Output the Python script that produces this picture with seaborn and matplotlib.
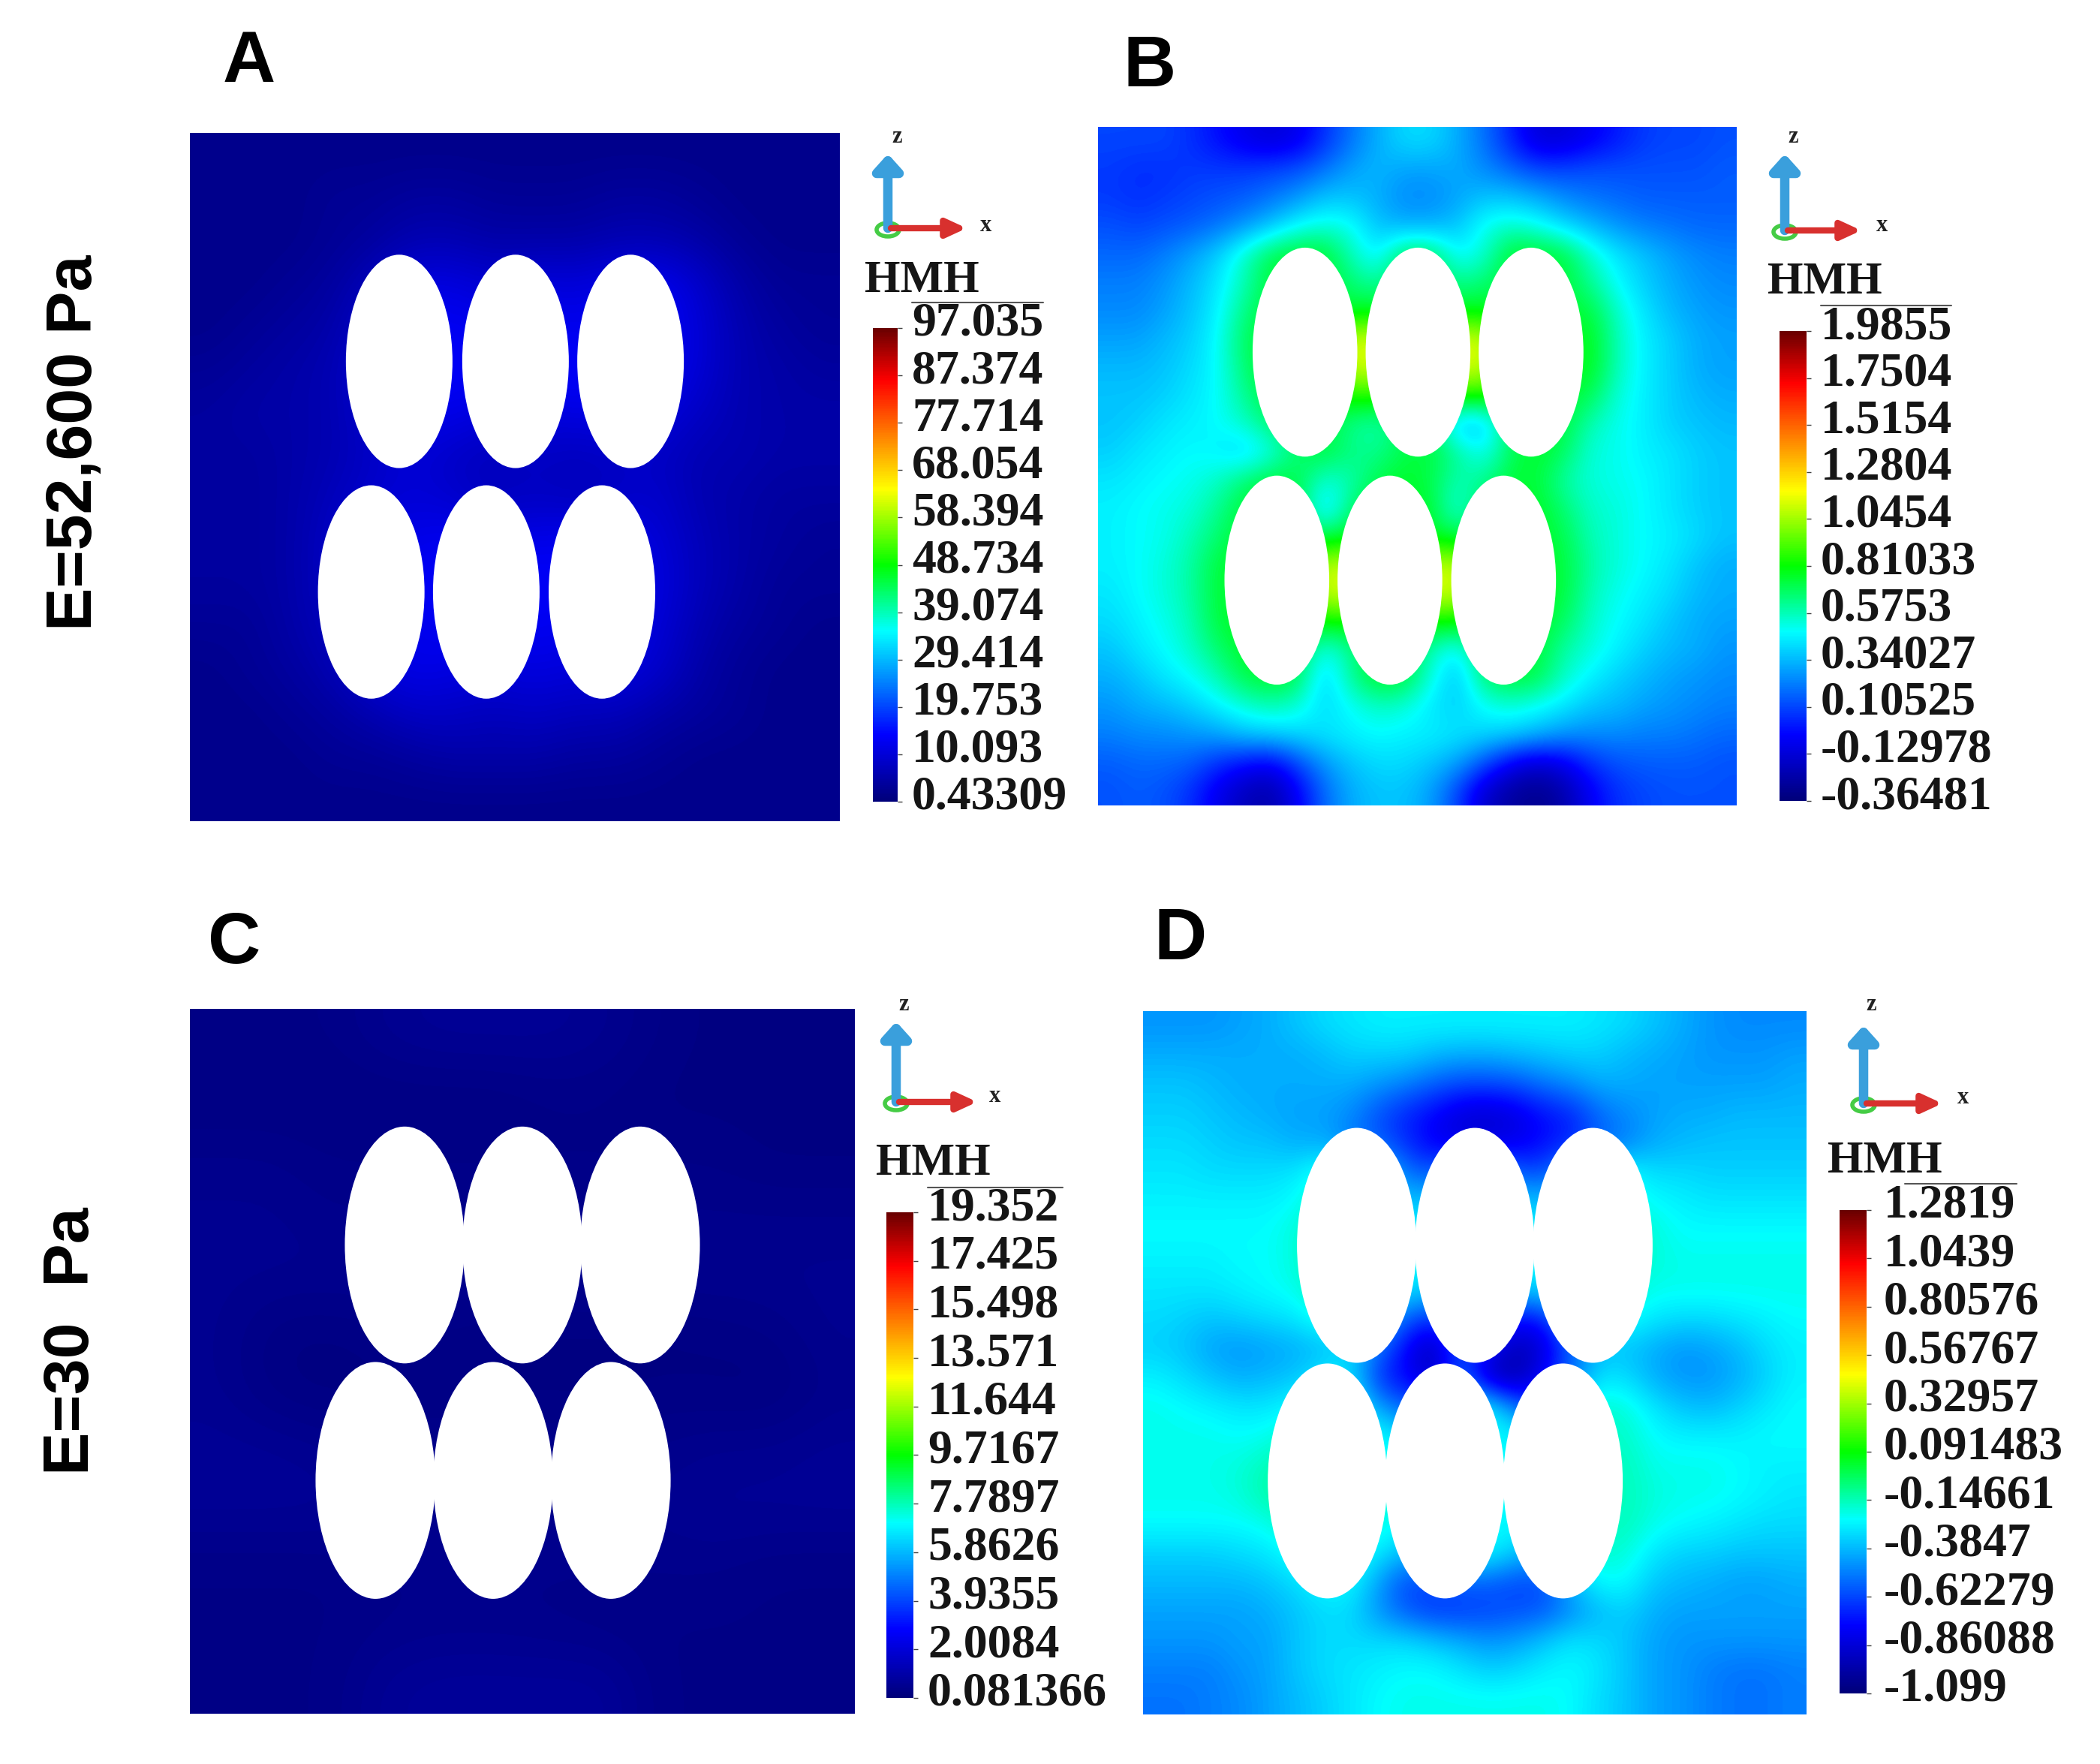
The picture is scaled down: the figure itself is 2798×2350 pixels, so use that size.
"""
plot.py - four HMH stress fields around six holes, two stiffness values
"""

import numpy as np
import matplotlib
matplotlib.use("Agg")
import matplotlib.pyplot as plt
from matplotlib.colors import LinearSegmentedColormap
from matplotlib.patches import Ellipse
from matplotlib.transforms import ScaledTranslation
import seaborn as sns

sns.set_theme(style="white")

FIG_W, FIG_H = 2798, 2350
SERIF = "Liberation Serif"
SANS = "Liberation Sans"

# colour bar of the solver, stops
cmap_stops = [(0.0, "#00007a"), (0.14, "#0000ff"), (0.36, "#00ffff"), (0.50, "#00ff00"),
              (0.66, "#ffff00"), (0.76, "#ff9000"), (0.89, "#ff0000"), (1.0, "#6a0000")]
hmh_cmap = LinearSegmentedColormap.from_list("hmh", cmap_stops)

# colour bar labels, top to bottom
labels_a = ["97.035", "87.374", "77.714", "68.054", "58.394", "48.734", "39.074", "29.414", "19.753", "10.093", "0.43309"]
labels_b = ["1.9855", "1.7504", "1.5154", "1.2804", "1.0454", "0.81033", "0.5753", "0.34027", "0.10525", "-0.12978", "-0.36481"]
labels_c = ["19.352", "17.425", "15.498", "13.571", "11.644", "9.7167", "7.7897", "5.8626", "3.9355", "2.0084", "0.081366"]
labels_d = ["1.2819", "1.0439", "0.80576", "0.56767", "0.32957", "0.091483", "-0.14661", "-0.3847", "-0.62279", "-0.86088", "-1.099"]

# holes, in percent of the panel (x from left, y from top)
holes_a = [[32.2, 50.1, 67.8], 33.2, [27.9, 45.6, 63.4], 66.7, 8.2, 15.5]
holes_b = [[32.4, 50.1, 67.8], 33.2, [28.0, 45.7, 63.5], 66.8, 8.2, 15.4]
holes_c = [[32.3, 50.0, 67.7], 33.5, [27.9, 45.6, 63.3], 66.9, 9.0, 16.8]
holes_d = [[32.2, 50.0, 67.8], 33.3, [27.8, 45.5, 63.3], 66.8, 9.0, 16.7]

# field, as percent of the colour bar range
# cells under the holes carry the value seen at the hole edge
field_a = [
    [2, 2, 2, 2, 2, 2, 2, 2, 2, 2, 2, 2, 2, 2, 2, 2],
    [2, 2, 2, 3, 3, 4, 4, 3, 3, 3, 4, 4, 3, 2, 2, 2],
    [2, 2, 2, 3, 4, 6, 6, 5, 5, 5, 6, 6, 5, 3, 2, 2],
    [2, 2, 3, 4, 7, 11, 11, 9, 11, 10, 12, 13, 9, 5, 3, 3],
    [2, 3, 4, 5, 9, 13, 13, 12, 13, 12, 13, 14, 10, 6, 4, 3],
    [3, 4, 5, 6, 10, 13, 14, 13, 14, 14, 13, 13, 10, 6, 5, 4],
    [4, 5, 5, 6, 9, 12, 12, 10, 11, 11, 12, 11, 8, 6, 5, 5],
    [4, 4, 5, 6, 8, 10, 8, 7, 8, 7, 8, 8, 6, 6, 5, 5],
    [4, 4, 5, 7, 9, 10, 9, 7, 8, 7, 8, 9, 6, 5, 4, 4],
    [4, 4, 5, 8, 11, 12, 13, 12, 12, 13, 12, 10, 7, 5, 4, 3],
    [4, 4, 5, 8, 12, 13, 14, 13, 14, 13, 12, 11, 7, 5, 3, 3],
    [3, 3, 5, 7, 11, 12, 13, 12, 13, 12, 12, 10, 6, 4, 3, 2],
    [2, 3, 4, 6, 10, 12, 11, 10, 11, 10, 11, 9, 5, 3, 2, 2],
    [2, 2, 3, 4, 6, 8, 8, 7, 8, 7, 7, 5, 4, 3, 2, 2],
    [2, 2, 2, 3, 3, 4, 5, 5, 5, 4, 4, 3, 2, 2, 2, 2],
    [2, 2, 2, 2, 2, 2, 2, 2, 2, 2, 2, 2, 2, 2, 2, 2],
]

field_b = [
    [20, 20, 20, 18, 15, 12, 10, 12, 18, 24, 29, 33, 33, 29, 24, 17, 10, 10, 13, 16, 19, 20, 20, 21],
    [19, 18, 18, 19, 19, 19, 20, 21, 24, 28, 30, 28, 28, 29, 26, 23, 20, 20, 21, 21, 21, 21, 21, 22],
    [19, 18, 19, 20, 21, 22, 24, 27, 31, 31, 29, 26, 26, 28, 31, 31, 29, 26, 24, 23, 22, 22, 22, 22],
    [21, 20, 21, 22, 24, 27, 31, 36, 38, 37, 31, 29, 29, 31, 37, 39, 37, 33, 30, 27, 25, 24, 23, 23],
    [23, 23, 25, 28, 32, 39, 46, 48, 48, 40, 34, 46, 46, 35, 38, 48, 48, 47, 39, 34, 31, 28, 26, 25],
    [25, 25, 27, 30, 34, 40, 47, 47, 47, 44, 41, 47, 47, 42, 44, 47, 47, 47, 42, 36, 32, 29, 27, 26],
    [26, 26, 28, 31, 35, 43, 47, 47, 47, 47, 48, 47, 47, 48, 48, 47, 47, 47, 47, 39, 34, 30, 28, 27],
    [28, 28, 30, 32, 36, 45, 48, 48, 48, 64, 64, 48, 48, 64, 64, 48, 48, 48, 49, 40, 35, 32, 29, 28],
    [30, 30, 31, 33, 36, 44, 48, 48, 48, 64, 64, 48, 48, 64, 64, 48, 48, 48, 49, 40, 35, 32, 29, 28],
    [31, 31, 32, 34, 36, 42, 47, 48, 48, 52, 52, 48, 48, 52, 52, 48, 48, 47, 46, 38, 35, 32, 30, 29],
    [31, 32, 34, 35, 36, 39, 44, 47, 47, 42, 40, 46, 46, 30, 30, 46, 47, 47, 40, 37, 35, 32, 31, 30],
    [32, 34, 35, 36, 35, 32, 37, 44, 47, 43, 42, 46, 47, 42, 36, 45, 48, 45, 38, 37, 35, 34, 32, 31],
    [34, 35, 36, 37, 39, 44, 47, 46, 38, 40, 46, 48, 46, 40, 42, 47, 47, 41, 38, 37, 36, 34, 32, 31],
    [35, 36, 37, 38, 42, 47, 48, 48, 31, 44, 48, 48, 48, 36, 47, 48, 48, 44, 39, 38, 36, 34, 32, 31],
    [35, 36, 37, 40, 44, 48, 48, 48, 46, 48, 48, 48, 48, 46, 48, 48, 48, 46, 40, 38, 36, 35, 33, 31],
    [35, 36, 38, 41, 47, 48, 48, 48, 63, 63, 48, 48, 63, 63, 48, 48, 48, 47, 41, 38, 36, 34, 31, 29],
    [34, 36, 38, 41, 47, 48, 48, 48, 64, 64, 48, 48, 64, 64, 48, 48, 48, 47, 40, 37, 35, 33, 30, 29],
    [33, 35, 37, 40, 47, 48, 48, 48, 50, 50, 48, 48, 50, 50, 48, 48, 48, 45, 39, 36, 34, 31, 29, 28],
    [31, 34, 36, 39, 44, 48, 48, 47, 36, 42, 48, 48, 40, 34, 47, 48, 47, 41, 38, 35, 32, 30, 29, 27],
    [29, 31, 34, 36, 40, 46, 48, 46, 31, 42, 48, 47, 38, 30, 44, 47, 46, 39, 35, 32, 30, 28, 27, 26],
    [27, 29, 30, 32, 35, 38, 40, 38, 33, 36, 39, 38, 34, 32, 36, 38, 36, 34, 31, 30, 28, 27, 26, 25],
    [25, 26, 26, 27, 28, 31, 32, 33, 34, 35, 36, 35, 35, 34, 33, 32, 30, 27, 26, 26, 25, 25, 24, 23],
    [22, 23, 23, 22, 18, 15, 13, 20, 27, 31, 33, 33, 31, 28, 21, 13, 9, 12, 18, 21, 22, 22, 22, 21],
    [21, 22, 21, 18, 12, 7, 5, 13, 23, 29, 31, 31, 28, 20, 9, 4, 2, 5, 13, 18, 20, 21, 21, 21],
]

field_c = [
    [1.5, 1.5, 1.5, 2.5, 3.0, 3.0, 3.0, 2.5, 1.5, 1.0, 1.0, 1.0],
    [1.0, 1.0, 1.0, 1.0, 1.0, 1.0, 1.5, 1.5, 1.0, 1.0, 1.0, 1.0],
    [2.0, 2.0, 1.5, 1.5, 1.5, 1.5, 1.5, 1.5, 1.5, 1.5, 1.0, 1.0],
    [2.5, 2.5, 2.0, 2.0, 2.0, 2.0, 2.0, 2.0, 2.0, 2.0, 2.0, 2.0],
    [2.5, 2.5, 2.5, 2.5, 2.5, 2.5, 2.5, 2.5, 2.5, 2.5, 2.5, 2.5],
    [2.5, 1.2, 1.0, 1.5, 1.5, 1.2, 1.0, 1.0, 1.0, 1.2, 1.5, 2.5],
    [2.5, 1.2, 0.8, 1.0, 1.2, 1.0, 1.0, 1.0, 1.2, 1.0, 0.8, 2.0],
    [3.0, 3.0, 2.5, 2.0, 2.0, 2.0, 2.0, 2.0, 2.0, 2.5, 2.5, 3.0],
    [3.0, 3.0, 3.0, 2.5, 2.5, 2.5, 2.5, 2.5, 2.5, 3.0, 3.0, 3.0],
    [1.5, 1.5, 1.5, 2.0, 2.0, 2.0, 2.0, 2.0, 2.0, 2.0, 1.5, 1.5],
    [1.5, 1.5, 1.5, 1.8, 2.0, 2.0, 1.8, 1.5, 1.5, 1.5, 1.5, 1.5],
    [1.5, 1.5, 1.5, 3.0, 3.5, 3.5, 3.5, 3.5, 1.5, 1.5, 1.5, 1.5],
]

field_d = [
    [27, 27, 27, 28, 29, 31, 33, 34, 35, 35, 35, 35, 35, 35, 35, 35, 34, 33, 31, 29, 27, 26, 26, 26],
    [29, 29, 29, 29, 29, 29, 30, 32, 32, 32, 30, 29, 29, 30, 31, 32, 32, 30, 29, 28, 27, 27, 27, 28],
    [31, 31, 30, 29, 29, 29, 29, 29, 27, 25, 22, 20, 20, 21, 24, 26, 29, 29, 28, 28, 28, 28, 28, 29],
    [32, 32, 31, 30, 29, 28, 28, 26, 21, 17, 14, 10, 9, 11, 15, 17, 23, 26, 28, 29, 29, 30, 30, 30],
    [33, 33, 32, 31, 31, 29, 29, 25, 22, 18, 13, 11, 11, 12, 15, 17, 23, 25, 29, 30, 31, 31, 31, 31],
    [34, 34, 33, 33, 33, 34, 38, 38, 35, 24, 21, 30, 30, 22, 20, 30, 34, 37, 33, 33, 32, 32, 32, 32],
    [35, 35, 35, 35, 35, 36, 40, 38, 36, 30, 32, 34, 34, 32, 30, 34, 36, 38, 36, 35, 34, 34, 34, 34],
    [36, 36, 36, 36, 36, 38, 41, 38, 36, 36, 36, 36, 36, 36, 36, 36, 36, 40, 38, 36, 36, 36, 36, 36],
    [35, 35, 35, 36, 36, 38, 41, 38, 36, 36, 36, 36, 36, 36, 36, 36, 36, 40, 38, 37, 37, 37, 37, 37],
    [34, 34, 34, 35, 36, 37, 41, 38, 36, 34, 32, 35, 35, 32, 33, 36, 36, 39, 37, 37, 37, 37, 37, 37],
    [33, 32, 31, 32, 33, 34, 38, 36, 32, 22, 17, 26, 22, 14, 16, 30, 36, 37, 34, 33, 33, 34, 35, 36],
    [32, 31, 28, 27, 28, 29, 30, 33, 24, 14, 6, 22, 14, 6, 10, 22, 30, 31, 29, 27, 28, 30, 33, 35],
    [35, 33, 31, 29, 30, 31, 35, 34, 18, 14, 7, 24, 7, 5, 14, 24, 34, 33, 29, 27, 27, 29, 32, 35],
    [37, 36, 35, 34, 34, 36, 40, 38, 28, 22, 24, 36, 36, 24, 18, 34, 39, 38, 34, 31, 30, 32, 34, 36],
    [37, 37, 37, 36, 37, 39, 40, 39, 36, 34, 36, 36, 36, 36, 34, 36, 39, 39, 36, 35, 35, 35, 36, 36],
    [37, 37, 37, 38, 40, 42, 40, 39, 38, 36, 36, 36, 36, 36, 36, 36, 39, 40, 37, 37, 37, 36, 35, 35],
    [37, 37, 37, 38, 41, 42, 40, 39, 38, 36, 36, 36, 36, 36, 36, 36, 39, 40, 38, 37, 37, 36, 35, 34],
    [36, 36, 36, 36, 37, 40, 40, 39, 38, 36, 36, 36, 36, 36, 36, 36, 39, 40, 37, 36, 35, 34, 33, 33],
    [32, 32, 32, 33, 34, 37, 40, 39, 34, 30, 32, 36, 36, 31, 29, 36, 39, 38, 34, 32, 32, 31, 31, 31],
    [30, 30, 30, 30, 31, 33, 36, 36, 28, 20, 20, 22, 22, 20, 20, 30, 36, 36, 31, 30, 29, 28, 28, 29],
    [28, 28, 28, 28, 29, 31, 33, 33, 27, 22, 19, 19, 20, 21, 22, 26, 30, 32, 29, 28, 28, 28, 28, 28],
    [27, 27, 27, 28, 28, 31, 33, 33, 33, 33, 31, 29, 27, 28, 31, 34, 33, 31, 28, 27, 27, 27, 27, 27],
    [25, 25, 25, 27, 28, 31, 33, 34, 35, 36, 36, 34, 32, 33, 35, 36, 34, 31, 28, 27, 25, 24, 24, 25],
    [24, 24, 25, 26, 28, 30, 32, 34, 36, 37, 37, 37, 37, 37, 37, 36, 33, 31, 28, 27, 25, 24, 24, 25],
]

# one entry per panel: pixel boxes of field and bar, then the furniture around them
panels = [
    dict(letter="A", letter_xy=(332, 84), field=field_a, labels=labels_a, holes=holes_a,
         box=(253, 177, 1119, 1094), bar=(1163, 437, 1196, 1068), pad=19,
         hmh=(1152, 374), over=(1215, 1390, 403),
         z=(1183, 304, 205), x_end=1288, z_txt=(1195, 182), x_txt=(1313, 301)),
    dict(letter="B", letter_xy=(1532, 90), field=field_b, labels=labels_b, holes=holes_b,
         box=(1463, 169, 2314, 1073), bar=(2371, 441, 2407, 1067), pad=19,
         hmh=(2355, 376), over=(2426, 2600, 407),
         z=(2378, 307, 205), x_end=2480, z_txt=(2389, 182), x_txt=(2507, 300)),
    dict(letter="C", letter_xy=(312, 1258), field=field_c, labels=labels_c, holes=holes_c,
         box=(253, 1344, 1139, 2283), bar=(1181, 1615, 1217, 2262), pad=19,
         hmh=(1167, 1550), over=(1236, 1416, 1582),
         z=(1194, 1468, 1361), x_end=1302, z_txt=(1204, 1338), x_txt=(1326, 1461)),
    dict(letter="D", letter_xy=(1573, 1253), field=field_d, labels=labels_d, holes=holes_d,
         box=(1523, 1347, 2407, 2284), bar=(2451, 1612, 2487, 2256), pad=23,
         hmh=(2435, 1547), over=(2538, 2687, 1577),
         z=(2483, 1470, 1366), x_end=2588, z_txt=(2493, 1339), x_txt=(2615, 1462)),
]


def px_axes(fig, box):
    x0, y0, x1, y1 = box
    return fig.add_axes([x0 / FIG_W, 1 - y1 / FIG_H, (x1 - x0) / FIG_W, (y1 - y0) / FIG_H])


fig = plt.figure(figsize=(FIG_W / 100, FIG_H / 100), dpi=100, facecolor="white")

# overlay in pixel units for the letters, side labels and axis triads
over = fig.add_axes([0, 0, 1, 1], zorder=10)
over.set_xlim(0, FIG_W)
over.set_ylim(FIG_H, 0)
over.axis("off")

for p in panels:
    ticks = [float(s) for s in p["labels"]]
    vmax, vmin = ticks[0], ticks[-1]
    values = vmin + np.array(p["field"], dtype=float) / 100 * (vmax - vmin)
    n = values.shape[0]

    ax = px_axes(fig, p["box"])
    cax = px_axes(fig, p["bar"])
    sns.heatmap(values, ax=ax, cmap=hmh_cmap, vmin=vmin, vmax=vmax, cbar_ax=cax,
                cbar_kws={"ticks": ticks}, xticklabels=False, yticklabels=False)
    # smooth the cells the way the solver's contour plot looks, on top of the mesh
    ax.imshow(values, cmap=hmh_cmap, vmin=vmin, vmax=vmax, interpolation="bicubic",
              extent=(0, n, n, 0), aspect="auto", zorder=2)
    ax.set_xlim(0, n)
    ax.set_ylim(n, 0)

    top_x, top_y, low_x, low_y, half_w, half_h = p["holes"]
    for xs, y in ((top_x, top_y), (low_x, low_y)):
        for x in xs:
            ax.add_patch(Ellipse((x * n / 100, y * n / 100), 2 * half_w * n / 100, 2 * half_h * n / 100,
                                 fc="white", ec="none", zorder=5))

    cax.set_yticks(ticks, labels=p["labels"])
    cax.tick_params(axis="y", length=4, width=1, color="#444444", pad=p["pad"] / 1.39 - 4,
                    labelsize=46, labelcolor="#151515")
    up = ScaledTranslation(0, 0.12, fig.dpi_scale_trans)
    for lab in cax.get_yticklabels():
        lab.set_fontfamily(SERIF)
        lab.set_fontweight("bold")
        lab.set_transform(lab.get_transform() + up)

    # furniture
    over.text(*p["letter_xy"], p["letter"], family=SANS, fontweight="bold", fontsize=70,
              ha="center", va="center", color="black")
    over.text(*p["hmh"], "HMH", family=SERIF, fontweight="bold", fontsize=44,
              ha="left", va="center", color="#151515")
    x0, x1, y = p["over"]
    over.plot([x0, x1], [y, y], color="#555555", lw=1.5)

    zx, z_base, z_tip = p["z"]
    over.annotate("", xy=(zx, z_tip), xytext=(zx, z_base),
                  arrowprops=dict(arrowstyle="-|>,head_length=1.0,head_width=0.9", lw=9, color="#3a9fdc",
                                  shrinkA=0, shrinkB=0))
    over.annotate("", xy=(p["x_end"], z_base), xytext=(zx + 4, z_base),
                  arrowprops=dict(arrowstyle="-|>,head_length=1.3,head_width=0.6", lw=6, color="#d8302e",
                                  shrinkA=0, shrinkB=0))
    over.add_patch(Ellipse((zx, z_base + 2), 30, 18, fc="white", ec="#45cc45", lw=4))
    over.text(*p["z_txt"], "z", family=SERIF, fontweight="bold", fontsize=22, ha="center", va="center", color="#222222")
    over.text(*p["x_txt"], "x", family=SERIF, fontweight="bold", fontsize=22, ha="center", va="center", color="#222222")

over.text(100, 590, "E=52,600 Pa", family=SANS, fontweight="bold", fontsize=62, rotation=90,
          ha="center", va="center", color="black")
over.text(96, 1787, "E=30  Pa", family=SANS, fontweight="bold", fontsize=62, rotation=90,
          ha="center", va="center", color="black")

fig.savefig("out.png", dpi=100, facecolor="white")
plt.close(fig)
